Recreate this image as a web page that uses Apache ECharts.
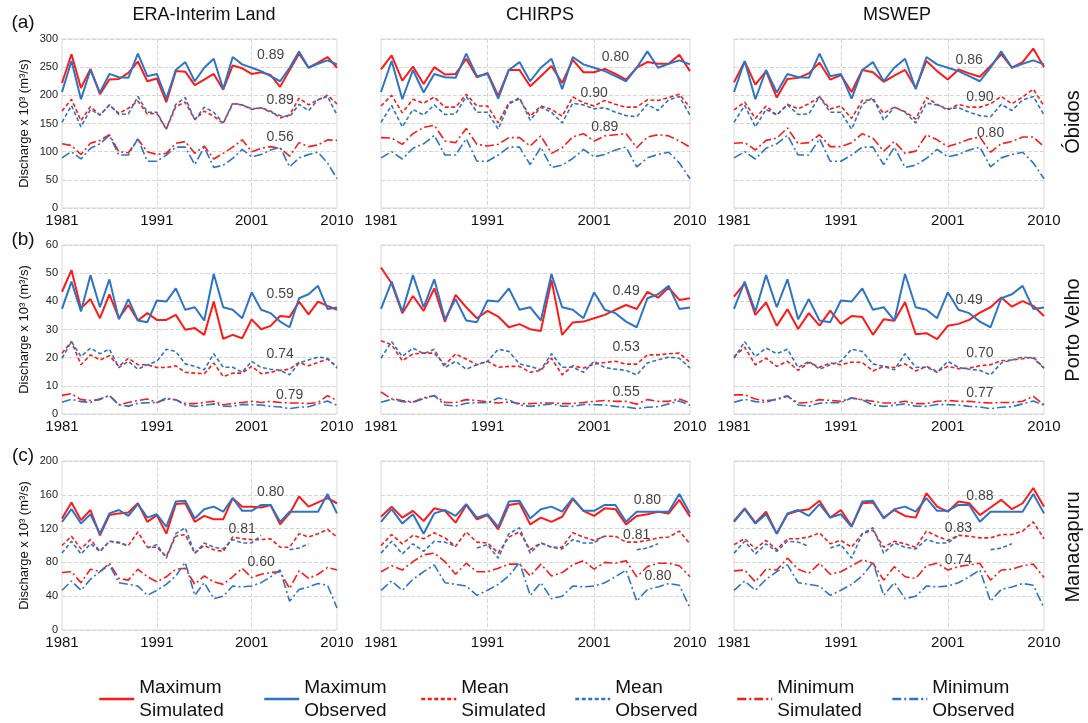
<!DOCTYPE html>
<html>
<head>
<meta charset="utf-8">
<script src="https://cdn.jsdelivr.net/npm/echarts/dist/echarts.min.js"></script>
<style>html,body{margin:0;padding:0;background:#fff}#chart{width:1088px;height:723px}</style>
</head>
<body>
<div id="chart"></div>
<script>
// ---------------- DATA ----------------
const years = ['1981','1982','1983','1984','1985','1986','1987','1988','1989','1990','1991','1992','1993','1994','1995','1996','1997','1998','1999','2000','2001','2002','2003','2004','2005','2006','2007','2008','2009','2010'];
const xTickYears = ['1981','1991','2001','2010'];
const xGridYears = ['1991','2001'];
const stations = ['Óbidos','Porto Velho','Manacapuru'];
const products = ['ERA-Interim Land','CHIRPS','MSWEP'];
const panelLetters = ['(a)','(b)','(c)'];
const yMax = [300, 60, 200];
const yStep = [50, 10, 40];
const seriesNames = ['Maximum Simulated','Maximum Observed','Mean Simulated','Mean Observed','Minimum Simulated','Minimum Observed'];

// Óbidos
const obidosMaxObs  = [206,261,193,245,205,238,232,231,274,234,238,194,245,259,225,249,265,211,268,255,249,243,234,225,249,278,249,256,262,255];
const obidosMeanObs = [152,182,144,175,165,183,166,167,198,170,170,140,184,196,156,179,170,151,186,183,176,178,170,164,162,184,173,192,198,165];
const obidosMinObs  = [89,100,87,106,114,129,94,94,123,83,83,94,108,108,77,108,72,76,88,104,91,95,103,108,73,89,95,99,80,52];
const obidosEraMax  = [222,273,213,247,202,228,229,240,260,225,230,188,243,242,218,228,238,210,253,248,238,241,236,215,245,274,249,258,268,249];
const obidosEraMean = [172,193,155,180,165,183,168,177,190,167,168,140,180,188,157,172,163,150,185,183,175,178,172,160,165,195,183,192,200,185];
const obidosEraMin  = [114,111,95,115,120,130,100,98,122,100,95,97,115,118,97,110,87,97,108,121,100,106,109,106,92,116,109,112,121,120];
const obidosChirpsMax  = [246,271,226,251,220,250,237,238,265,232,240,199,245,245,216,234,252,222,263,241,241,247,238,228,249,259,256,256,272,243];
const obidosChirpsMean = [181,200,169,193,186,197,179,179,202,181,181,151,187,193,163,181,175,163,197,187,181,191,184,179,179,192,191,196,202,178];
const obidosChirpsMin  = [125,124,113,132,143,147,119,116,141,113,110,113,125,125,110,128,97,107,126,132,119,128,130,132,107,126,130,128,119,108];
const obidosMswepMax  = [223,260,219,243,196,229,231,239,258,228,236,206,245,241,224,235,245,213,261,243,228,246,239,233,252,273,249,259,283,250];
const obidosMswepMean = [174,188,159,181,165,184,176,185,197,176,181,159,191,192,168,179,171,158,196,184,174,184,179,179,185,198,185,197,211,181];
const obidosMswepMin  = [115,116,103,120,124,142,114,116,130,109,109,116,132,124,101,118,97,101,130,121,109,115,122,126,99,114,118,126,126,109];

// Porto Velho
const portoMaxObs  = [37.3,47,36.4,49.3,37.9,47.8,33.6,40.8,33.2,32.6,40.3,39.9,44.6,37,37.9,33.2,49.7,37.9,37,34,43.2,37,35.8,32.8,30.8,41.1,42.5,45.5,37.3,37.8];
const portoMeanObs = [19.8,25.7,20.4,23.4,21.4,23,16.5,18.7,15.9,17.5,18.7,23,22.2,17.8,16.9,15.7,21.4,16.6,16.6,14.8,18.7,16.5,15.9,15.5,13.9,18.1,19.2,20.2,19.8,16.3];
const portoMinObs  = [4.2,5.2,4.4,4.1,5.4,6.5,3.2,2.8,3.8,4.0,4.0,5.7,5.0,3.2,2.7,3.1,3.6,2.8,2.7,3.4,3.3,3.2,2.7,2.5,1.9,2.4,2.6,3.6,4.6,3.1];
const portoEraMax  = [43.4,51.1,37.5,40.8,34,42.5,34,38.7,33.2,35.8,33.4,33.4,35.2,29.9,30.5,28.1,39.9,26.7,28.1,26.9,33.6,30.1,31.3,34.8,34.4,39.9,35.4,39.9,38.4,37];
const portoEraMean = [21.6,25.7,17.5,21,19.2,20.7,16.9,19.8,17.5,17.5,16.5,16.5,17.1,14.8,14.5,14.3,18.1,13.3,14.5,14.5,16.9,14.3,14.8,15.5,15.9,18.3,17.1,18.3,19.5,16.9];
const portoEraMin  = [6.6,7.2,5.1,4.8,5.1,6.6,3.3,4.1,4.8,5.3,4.1,5.3,5.1,3.7,3.7,4.1,4.5,3.3,3.7,4.1,4.5,4.1,4.5,4.1,3.9,3.9,3.7,4.1,6.5,4.8];
const portoChirpsMax  = [52,46.4,35.8,41.9,36.6,44.6,32.8,42.3,37.9,34,36.6,34.6,30.8,31.9,30.1,29.5,47.6,28.1,32.5,32.8,34,35.2,37,38.7,37.3,43.4,41.3,44.9,40.5,41.1];
const portoChirpsMean = [26,24.6,18.9,21.3,21.6,21.6,17.5,21.3,19.5,17.5,18.7,16.6,16.9,16.9,14.8,15.5,19.8,13.9,17.1,16.3,17.7,18.3,18.7,17.7,17.7,21,21,21.4,21.6,18.3];
const portoChirpsMin  = [7.8,5.4,4.8,4.3,5.7,6.6,4.1,4.1,5.1,4.8,4.3,3.9,4.3,3.7,3.7,3.9,3.9,3.7,3.7,4.1,4.5,4.8,4.5,4.5,3.5,5.1,4.5,4.5,5.3,3.9];
const portoMswepMax  = [41.7,46.4,35.2,39.6,31.3,37.2,30.2,35.8,31.4,36.7,32,34.8,34.4,28.1,33.6,33.1,39.7,28.3,28.7,26.6,31.3,32,33.4,36,37.9,41.4,38.1,40.1,38.4,34.8];
const portoMswepMean = [20.4,23.7,17.5,19.8,16.9,18.7,15.5,18.3,16.6,18.1,17.5,18.4,18.3,15.3,16.9,16.5,17.8,15.3,16.9,15.1,16.9,16.1,16.3,17.1,17.5,18.9,19.2,19.6,20.2,16.3];
const portoMswepMin  = [6.8,6.8,5.3,4.7,5.1,6.3,3.9,4.1,5.1,4.8,4.5,5.7,5.1,4.5,3.9,3.9,4.5,3.7,3.7,4.5,4.8,4.5,4.5,4.1,3.9,4.1,4.1,4.5,6.3,3.3];

// Manacapuru
const manaMaxObs  = [128,143,126,137,114,138,142,135,149,133,137,122,152,153,132,143,146,140,156,141,141,148,148,128,140,140,140,140,161,138];
const manaMeanObs = [91,105,90,102,93,105,104,99,null,97,101,85,114,121,91,103,98,96,107,103,103,112,null,null,95,97,102,null,null,null];
const manaMinObs  = [47,58,47,60,69,77,56,54,52,41,47,54,64,80,41,56,37,40,52,51,52,56,63,71,34,48,51,55,53,26];
const manaEraMax  = [132,151,130,142,112,136,138,139,150,128,136,114,149,150,128,135,131,131,156,146,146,145,148,125,138,158,146,151,156,150];
const manaEraMean = [100,111,96,107,93,105,103,100,116,98,98,87,111,113,91,100,95,93,110,108,107,107,108,98,98,114,110,114,119,110];
const manaEraMin  = [68,69,56,72,69,79,61,59,72,63,57,63,72,73,54,64,57,54,63,73,62,66,68,69,49,70,61,66,74,71];
const manaChirpsMax  = [134,146,133,141,129,144,141,127,148,131,136,119,148,150,125,133,128,134,155,141,135,144,143,125,135,137,140,138,154,134];
const manaChirpsMean = [100,113,102,112,108,115,109,99,116,104,103,91,110,116,95,103,98,98,115,110,106,111,111,104,104,106,109,110,117,102];
const manaChirpsMin  = [69,76,71,81,89,91,81,66,79,69,69,73,78,78,64,78,64,68,77,82,72,80,79,82,63,75,79,79,76,63];
const manaMswepMax  = [129,144,127,140,114,137,141,143,153,133,142,123,150,151,133,142,135,133,162,146,140,152,150,136,145,154,143,150,168,146];
const manaMswepMean = [101,108,96,106,95,108,108,110,115,102,106,98,114,118,98,105,102,98,117,111,106,112,111,109,109,113,113,117,128,108];
const manaMswepMin  = [70,71,57,72,71,85,72,67,79,66,69,76,83,79,59,75,63,61,76,79,71,75,77,79,59,71,72,76,78,62];

// correlation labels (text) and their anchor (year, value)
const corrText = [
  [['0.89','0.89','0.56'], ['0.80','0.90','0.89'], ['0.86','0.90','0.80']],
  [['0.59','0.74','0.79'], ['0.49','0.53','0.55'], ['0.49','0.70','0.77']],
  [['0.80','0.81','0.60'], ['0.80','0.81','0.80'], ['0.88','0.83','0.74']]
];
const corrAnchor = [
  [[['2003',272],['2004',192],['2004',125]], [['2003',268],['2001',204],['2002',144]], [['2003',263],['2004',197],['2005',133]]],
  [[['2004',42.6],['2004',21.3],['2005',6.7]], [['2004',43.7],['2004',23.8],['2004',7.8]], [['2003',40.5],['2004',21.7],['2004',7.4]]],
  [[['2003',163],['2000',119.5],['2002',80]], [['2006',154],['2005',112],['2007',64]], [['2004',159],['2002',121],['2002',83]]]
];

const observed = [
  [obidosMaxObs, obidosMeanObs, obidosMinObs],
  [portoMaxObs, portoMeanObs, portoMinObs],
  [manaMaxObs, manaMeanObs, manaMinObs]
];
const simulated = [
  [[obidosEraMax, obidosEraMean, obidosEraMin], [obidosChirpsMax, obidosChirpsMean, obidosChirpsMin], [obidosMswepMax, obidosMswepMean, obidosMswepMin]],
  [[portoEraMax, portoEraMean, portoEraMin], [portoChirpsMax, portoChirpsMean, portoChirpsMin], [portoMswepMax, portoMswepMean, portoMswepMin]],
  [[manaEraMax, manaEraMean, manaEraMin], [manaChirpsMax, manaChirpsMean, manaChirpsMin], [manaMswepMax, manaMswepMean, manaMswepMin]]
];

// ---------------- LAYOUT / STYLE ----------------
const FONT = '"Liberation Sans", Arial, Helvetica, sans-serif';
const RED = '#ff1a1a', BLUE = '#2e74c6';
const lineStyles = [
  {color: RED,  width: 2,   type: 'solid'},
  {color: BLUE, width: 2,   type: 'solid'},
  {color: RED,  width: 1.6, type: [4, 2.5]},
  {color: BLUE, width: 1.6, type: [4, 2.5]},
  {color: RED,  width: 1.6, type: [9, 3, 2, 3]},
  {color: BLUE, width: 1.6, type: [9, 3, 2, 3]}
];
const colBox = [{left: 62, width: 275}, {left: 381, width: 309}, {left: 734, width: 310}];
const rowBox = [{top: 39, height: 169}, {top: 245, height: 169}, {top: 461, height: 169}];
const titleX = [204, 540, 897];
const letterY = [23, 240, 456];
const stationY = [122, 330, 547];
const legendLeft = [98, 263, 420, 574, 736, 891];
const GRIDC = '#d6d6d6';

const grids = [], xAxes = [], yAxes = [], series = [];
let g = 0;
for (let r = 0; r < 3; r++) {
  for (let c = 0; c < 3; c++) {
    grids.push({left: colBox[c].left, top: rowBox[r].top, width: colBox[c].width, height: rowBox[r].height,
      show: true, borderColor: '#d9d9d9', borderWidth: 1, backgroundColor: 'transparent'});
    xAxes.push({type: 'category', gridIndex: g, data: years, boundaryGap: false,
      axisLine: {show: false}, axisTick: {show: false},
      axisLabel: {interval: (i, v) => xTickYears.includes(v), fontSize: 15, color: '#111', margin: 5, fontFamily: FONT},
      splitLine: {show: true, interval: (i, v) => xGridYears.includes(v), lineStyle: {type: 'dashed', color: GRIDC, width: 1}}});
    yAxes.push({type: 'value', gridIndex: g, min: 0, max: yMax[r], interval: yStep[r],
      axisLine: {show: false}, axisTick: {show: false},
      axisLabel: {show: c === 0, fontSize: 11, color: '#222', margin: 4, fontFamily: FONT},
      splitLine: {show: true, lineStyle: {type: 'dashed', color: GRIDC, width: 1}},
      name: c === 0 ? 'Discharge x 10³ (m³/s)' : '', nameLocation: 'middle', nameGap: 31,
      nameTextStyle: {fontSize: 13, color: '#111', fontFamily: FONT}});
    const sim = simulated[r][c], obs = observed[r];
    const lines = [sim[0], obs[0], sim[1], obs[1], sim[2], obs[2]];
    lines.forEach((d, k) => {
      series.push({type: 'line', name: seriesNames[k], xAxisIndex: g, yAxisIndex: g, data: d,
        symbol: 'none', showSymbol: false, connectNulls: false, silent: true,
        lineStyle: Object.assign({}, lineStyles[k]), itemStyle: {color: lineStyles[k].color},
        emphasis: {disabled: true}, z: 3});
    });
    series.push({type: 'scatter', name: 'corr', xAxisIndex: g, yAxisIndex: g, silent: true,
      symbolSize: 0, itemStyle: {color: '#111111'},
      data: corrAnchor[r][c].map((a, k) => ({value: a, name: corrText[r][c][k]})),
      label: {show: true, position: 'inside', formatter: '{b}', fontSize: 14, color: '#111111',
        textBorderWidth: 0, textBorderColor: 'transparent', fontFamily: FONT},
      z: 6});
    g++;
  }
}

const legends = seriesNames.map((n, i) => ({
  data: [n], left: legendLeft[i], top: 676, padding: 0, itemWidth: 35, itemHeight: 12, itemGap: 0,
  selectedMode: false, formatter: s => s.replace(' ', '\n'),
  lineStyle: {width: 2.5},
  itemStyle: {opacity: 0},
  textStyle: {fontSize: 19, lineHeight: 23, color: '#111', fontFamily: FONT}
}));

const graphics = [];
products.forEach((p, i) => graphics.push({type: 'text', x: titleX[i], y: 15,
  style: {text: p, fontSize: 18, fontFamily: FONT, fill: '#111', textAlign: 'center', textVerticalAlign: 'middle', align: 'center', verticalAlign: 'middle'}}));
panelLetters.forEach((p, i) => graphics.push({type: 'text', x: 23, y: letterY[i],
  style: {text: p, fontSize: 19, fontFamily: FONT, fill: '#111', textAlign: 'center', textVerticalAlign: 'middle', align: 'center', verticalAlign: 'middle'}}));
stations.forEach((s, i) => graphics.push({type: 'text', x: 1073, y: stationY[i], rotation: Math.PI / 2,
  style: {text: s, fontSize: 20, fontFamily: FONT, fill: '#111', textAlign: 'center', textVerticalAlign: 'middle', align: 'center', verticalAlign: 'middle'}}));

const chart = echarts.init(document.getElementById('chart'), null, {renderer: 'canvas'});
chart.setOption({
  animation: false,
  backgroundColor: '#ffffff',
  textStyle: {fontFamily: FONT},
  grid: grids, xAxis: xAxes, yAxis: yAxes, series: series,
  legend: legends,
  graphic: graphics
});
</script>
</body>
</html>
